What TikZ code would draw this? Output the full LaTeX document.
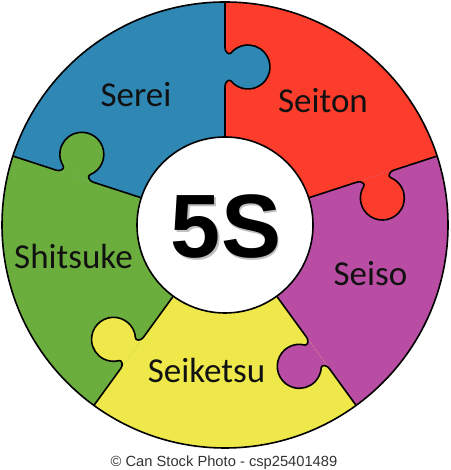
\documentclass[tikz,border=0pt]{standalone}
\usepackage{fontspec}
\setmainfont{Carlito}
\newfontfamily\arialfont{Liberation Sans}
\definecolor{cblue}{HTML}{2F87B4}
\definecolor{cred}{HTML}{FD3D2C}
\definecolor{cpurple}{HTML}{B84DA3}
\definecolor{cyellow}{HTML}{EEE84B}
\definecolor{cgreen}{HTML}{6CAE3D}
\definecolor{ctext}{HTML}{111111}
\def\tabpath{(139,0) .. controls (143,0) and (146.3,-4.1) .. (144,-6) arc[start angle=129.5, end angle=410.5, radius=22pt] .. controls (169.7,-4.1) and (173,0) .. (177,0)}
\tikzset{
  outline/.style={draw=black, line width=1.6pt, line join=round},
  lbl/.style={font=\fontsize{35}{40}\selectfont, text=ctext, anchor=base, inner sep=0pt},
}
\begin{document}
\begin{tikzpicture}[x=1pt,y=1pt]
\useasboundingbox (0,0) rectangle (450,470);
\fill[white] (0,0) rectangle (450,470);
\begin{scope}[shift={(225,245)}]
  % sectors
  \foreach \t/\c in {162/cblue, 90/cred, 18/cpurple, -54/cyellow, -126/cgreen}{
    \fill[\c] (\t:88pt) -- (\t:223pt) arc[start angle=\t, end angle=\t-72, radius=223pt]
      -- (\t-72:88pt) arc[start angle=\t-72, end angle=\t, radius=88pt] -- cycle;
  }
  % tabs
  \foreach \t/\c in {90/cblue, 18/cred, -54/cpurple, -126/cyellow, 162/cgreen}{
    \begin{scope}[rotate=\t]
      \fill[\c] \tabpath -- cycle;
    \end{scope}
  }
  % dividing lines
  \foreach \t in {90, 18, -54, -126, 162}{
    \begin{scope}[rotate=\t]
      \draw[outline] (88,0) -- \tabpath -- (223,0);
    \end{scope}
  }
  \draw[outline] (0,0) circle[radius=223pt];
  \node[circle, fill=white, outline, minimum size=176pt, inner sep=0pt] (hub) at (0,0) {};
\end{scope}
\node[lbl] (serei) at (136,363) {Serei};
\node[lbl] (seiton) at (323,357) {Seiton};
\node[lbl] (shitsuke) at (73.5,201) {Shitsuke};
\node[lbl] (seiso) at (370.5,184) {Seiso};
\node[lbl] (seiketsu) at (206.5,87) {Seiketsu};
\node[anchor=base, inner sep=0pt, text=black!25, font=\arialfont\bfseries\fontsize{90}{100}\selectfont] (fivesS) at (227.5,210.5) {5S};
\node[anchor=base, inner sep=0pt, text=black, font=\arialfont\bfseries\fontsize{90}{100}\selectfont] (fives) at (226,212) {5S};
\node[anchor=base, inner sep=0pt, text=black!80, font=\arialfont\fontsize{14.7}{16}\selectfont] (cap) at (224,4) {© Can Stock Photo - csp25401489};
\end{tikzpicture}
\end{document}
